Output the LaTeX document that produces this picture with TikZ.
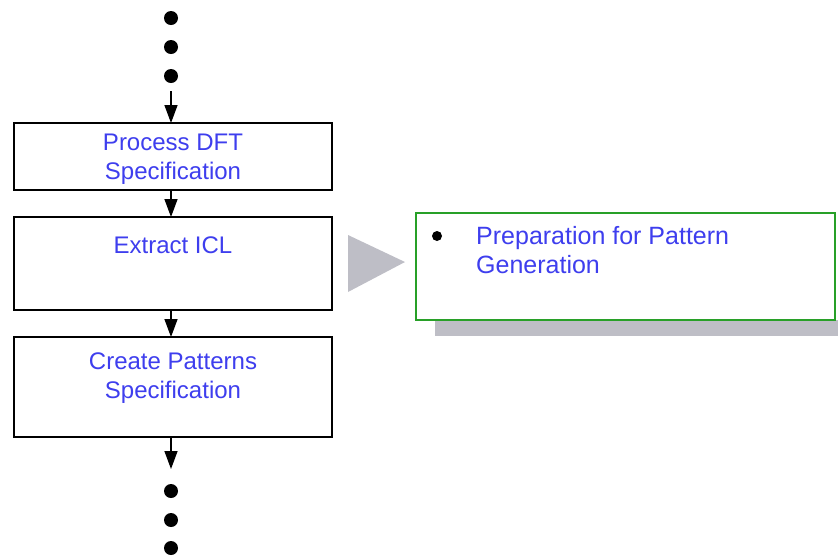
\documentclass[tikz,border=0pt]{standalone}
\usepackage{fontspec}
\setmainfont{Liberation Sans}
\usetikzlibrary{arrows.meta}
\definecolor{stepblue}{RGB}{62,62,238}
\definecolor{notegreen}{RGB}{40,160,40}
\definecolor{shadegray}{RGB}{190,190,198}
\tikzset{
  stepbox/.style={draw=black, line width=2.8pt, fill=white},
  steptext/.style={text=stepblue, font=\fontsize{24}{29.5}\selectfont, align=center, inner sep=0pt},
  flow/.style={line width=1.5pt, -{Triangle[width=13pt,length=18pt]}},
  ellipsisdot/.style={circle, fill=black, minimum size=14pt, inner sep=0pt},
}
\begin{document}
\begin{tikzpicture}[x=1pt, y=-1pt]
\useasboundingbox (0,0) rectangle (838,558);

% leading ellipsis
\node[ellipsisdot] (d1) at (171,18) {};
\node[ellipsisdot] (d2) at (171,47) {};
\node[ellipsisdot] (d3) at (171,76) {};
\coordinate (in) at (171,91);

% flow steps
\draw[stepbox] (14,123) rectangle (332,190);
\node[steptext] (t1) at (173,159) {Process DFT\\Specification};
\coordinate (b1t) at (171,123);
\coordinate (b1b) at (171,190);

\draw[stepbox] (14,217) rectangle (332,310);
\node[steptext] (t2) at (173,245) {Extract ICL};
\coordinate (b2t) at (171,217);
\coordinate (b2b) at (171,310);

\draw[stepbox] (14,337) rectangle (332,437);
\node[steptext] (t3) at (173,378) {Create Patterns\\Specification};
\coordinate (b3t) at (171,337);
\coordinate (b3b) at (171,437);

\coordinate (out) at (171,469);

% trailing ellipsis
\node[ellipsisdot] (e1) at (171,491) {};
\node[ellipsisdot] (e2) at (171,520) {};
\node[ellipsisdot] (e3) at (171,548) {};

% connectors
\draw[flow] (in) -- (b1t);
\draw[flow] (b1b) -- (b2t);
\draw[flow] (b2b) -- (b3t);
\draw[flow] (b3b) -- (out);

% pointer to the detail note
\fill[shadegray] (348,235) -- (348,292) -- (405,262) -- cycle;

% detail note with drop shadow
\fill[shadegray] (435,320) rectangle (838,336);
\draw[draw=notegreen, line width=2.4pt, fill=white] (416,213) rectangle (835,320);
\node[circle, fill=black, minimum size=10pt, inner sep=0pt] (bullet) at (437,236) {};
\node[text=stepblue, font=\fontsize{25}{29.5}\selectfont, align=left, anchor=north west, inner sep=0pt] (note) at (476,226) {Preparation for Pattern\\Generation};
\end{tikzpicture}
\end{document}
